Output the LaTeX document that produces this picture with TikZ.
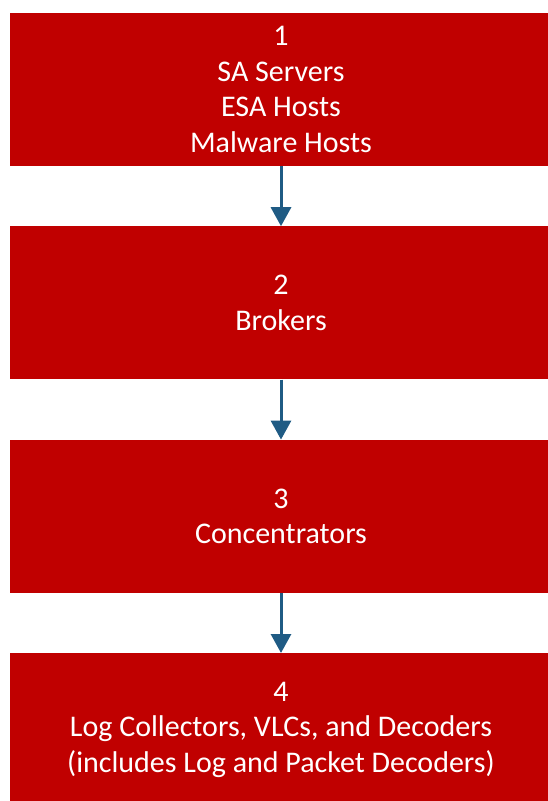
\documentclass[tikz,border=0pt]{standalone}
\usepackage{fontspec}
\setmainfont{Carlito}
\usetikzlibrary{positioning,arrows.meta}
\definecolor{tierred}{HTML}{C00000}
\definecolor{arrowblue}{HTML}{1F5B84}

\begin{document}
\begin{tikzpicture}[x=1pt,y=1pt]
% Styles
\tikzset{
    tier/.style={fill=tierred, text=white, minimum width=542pt,
        minimum height=153pt, inner sep=0pt, align=center,
        font=\fontsize{30}{35.5}\selectfont},
    flow/.style={arrowblue, line width=3pt,
        -{Triangle[width=20pt,length=19pt]}}
}
\useasboundingbox (0,0) rectangle (547,-801);

% Nodes
\node[tier] (T1) at (281, -89.5) {1\\SA Servers\\ESA Hosts\\Malware Hosts};
\node[tier, below=60pt of T1] (T2) {2\\Brokers};
\node[tier, below=60pt of T2] (T3) {3\\Concentrators};
\node[tier, below=60pt of T3] (T4)
    {4\\Log Collectors, VLCs, and Decoders\\(includes Log and Packet Decoders)};

% Connections
\draw[flow] (T1) -- (T2);
\draw[flow] (T2) -- (T3);
\draw[flow] (T3) -- (T4);
\end{tikzpicture}
\end{document}
